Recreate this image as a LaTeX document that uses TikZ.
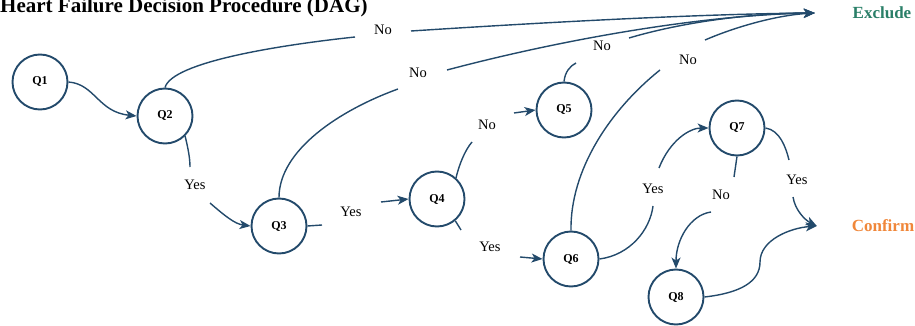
\documentclass[tikz,border=0pt]{standalone}
\usepackage{fontspec}
\setmainfont{Liberation Serif}
\usetikzlibrary{arrows.meta}
\definecolor{edgec}{HTML}{234A6B}
\definecolor{exc}{HTML}{2A7F68}
\definecolor{conf}{HTML}{F0873A}
\tikzset{
  qnode/.style={circle, draw=edgec, line width=1.9pt, minimum size=55pt, inner sep=0pt,
    font=\fontsize{12}{14}\selectfont\bfseries},
  conn/.style={draw=edgec, line width=1.4pt},
  arr/.style={conn, -{Stealth[length=11pt,width=9pt,inset=3pt]}},
  lbl/.style={inner sep=0pt, font=\fontsize{14.5}{17}\selectfont},
  outlbl/.style={inner sep=0pt, font=\fontsize{17}{20}\selectfont\bfseries},
}
\begin{document}
\begin{tikzpicture}[x=1pt,y=-1pt]
\useasboundingbox (0,0) rectangle (915,326);
% title
\node[anchor=base west, inner sep=0pt, font=\fontsize{21}{24}\selectfont\bfseries] (title) at (0,12.7) {Heart Failure Decision Procedure (DAG)};
% nodes
\node[qnode] (Q1) at (40,82) {Q1};
\node[qnode] (Q2) at (165,116) {Q2};
\node[qnode] (Q3) at (279,226) {Q3};
\node[qnode] (Q4) at (437,199) {Q4};
\node[qnode] (Q5) at (564,110) {Q5};
\node[qnode] (Q6) at (571,259) {Q6};
\node[qnode] (Q7) at (737,128) {Q7};
\node[qnode] (Q8) at (676,297) {Q8};
\node[outlbl, text=exc, minimum width=134pt] (Ex) at (882,13) {Exclude};
\node[outlbl, text=conf, minimum width=132pt] (Cf) at (883,226) {Confirm};
% labels
\node[lbl] (l2) at (383,30) {No};
\node[lbl] (l3) at (195,185) {Yes};
\node[lbl] (l4) at (418,73) {No};
\node[lbl] (l5) at (351,212) {Yes};
\node[lbl] (l6) at (487,125) {No};
\node[lbl] (l7) at (490,247) {Yes};
\node[lbl] (l8) at (602,46) {No};
\node[lbl] (l9) at (688,60) {No};
\node[lbl] (l10) at (653,189) {Yes};
\node[lbl] (l11) at (721,195) {No};
\node[lbl] (l12) at (797,180) {Yes};
% gap end coordinates
\coordinate (a2) at (355,37);  \coordinate (b2) at (411,31);
\coordinate (a3) at (190,167); \coordinate (b3) at (210,203);
\coordinate (a4) at (398,89);  \coordinate (b4) at (447,70);
\coordinate (a5) at (322,225); \coordinate (b5) at (381,202);
\coordinate (a6) at (472,142); \coordinate (b6) at (514,113);
\coordinate (a7) at (461,230); \coordinate (b7) at (520,257);
\coordinate (a8) at (576,63);  \coordinate (b8) at (629,38);
\coordinate (a9) at (660,70);  \coordinate (b9) at (705,40);
\coordinate (a10) at (653,206); \coordinate (b10) at (659,168);
\coordinate (a11) at (734,177); \coordinate (b11) at (711,212);
\coordinate (a12) at (789,160); \coordinate (b12) at (793,197);
% edges
\draw[arr] (Q1.east) .. controls (95,84) and (98,112) .. (Q2.west);
\draw[conn] (Q2.north) .. controls (172,62) and (280,45) .. (a2);
\draw[arr] (b2) .. controls (550,22) and (700,14) .. (Ex.west);
\draw[conn] (Q2.-45) .. controls (188,148) and (190,158) .. (a3);
\draw[arr] (b3) .. controls (225,216) and (235,224) .. (Q3.west);
\draw[conn] (Q3.north) .. controls (279,150) and (340,110) .. (a4);
\draw[arr] (b4) .. controls (560,40) and (700,15) .. (Ex.west);
\draw[conn] (Q3.east) -- (a5);
\draw[arr] (b5) -- (Q4.west);
\draw[conn] (Q4.48) .. controls (459,165) and (465,150) .. (a6);
\draw[arr] (b6) -- (Q5.west);
\draw[conn] (Q4.-50) -- (a7);
\draw[arr] (b7) -- (Q6.west);
\draw[conn] (Q5.north) .. controls (565,72) and (570,66) .. (a8);
\draw[arr] (b8) .. controls (690,20) and (760,13) .. (Ex.west);
\draw[conn] (Q6.north) .. controls (570,170) and (610,110) .. (a9);
\draw[arr] (b9) .. controls (740,25) and (780,15) .. (Ex.west);
\draw[conn] (Q6.east) .. controls (630,255) and (650,230) .. (a10);
\draw[arr] (b10) .. controls (670,140) and (690,128) .. (Q7.west);
\draw[conn] (Q7.south) -- (a11);
\draw[arr] (b11) .. controls (690,215) and (676,240) .. (Q8.north);
\draw[conn] (Q7.east) .. controls (780,130) and (786,148) .. (a12);
\draw[arr] (b12) .. controls (795,210) and (805,220) .. (Cf.west);
\draw[arr] (Q8.east) .. controls (740,293) and (760,282) .. (760,262) .. controls (760,240) and (790,228) .. (Cf.west);
\end{tikzpicture}
\end{document}
